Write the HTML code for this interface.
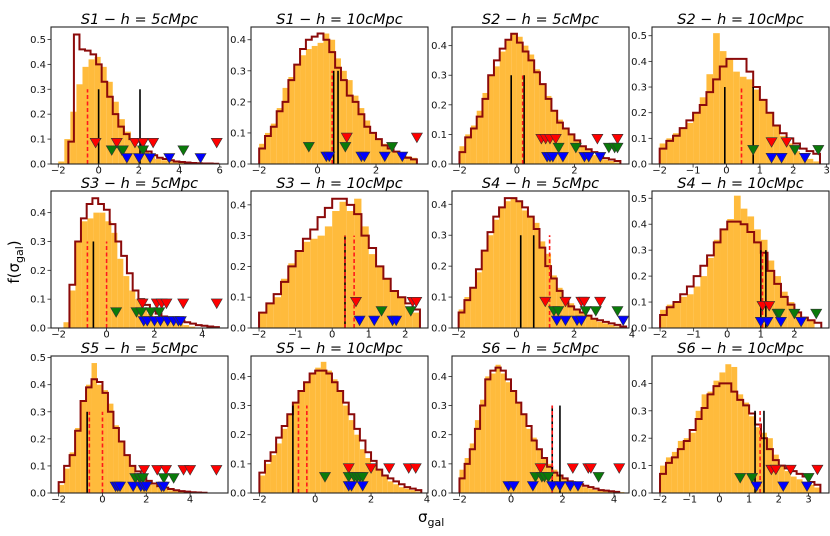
<!DOCTYPE html>
<html><head><meta charset="utf-8">
<style>
html,body{margin:0;padding:0;background:#fff;}
svg{display:block;font-family:"DejaVu Sans","Liberation Sans",sans-serif;}
</style></head>
<body>
<svg id="fig" width="830" height="536" viewBox="0 0 830 536" xmlns="http://www.w3.org/2000/svg">
<text x="0" y="0" transform="translate(19,262) rotate(-90)" text-anchor="middle" font-size="15">f(σ<tspan font-size="11" dy="4">gal</tspan><tspan dy="-4">)</tspan></text>
<text x="418" y="522" font-size="15">σ<tspan font-size="11" dy="4">gal</tspan></text>
</svg>
<script>
// ---- data per panel ----
const titles = ["S1","S1","S2","S2","S3","S3","S4","S4","S5","S5","S6","S6"];
const scales = ["5","10","5","10","5","10","5","10","5","10","5","10"];
const orange1 = [0.01,0.1,0.21,0.32,0.39,0.42,0.43,0.39,0.33,0.25,0.18,0.13,0.1,0.07,0.05,0.03,0.02,0.015,0.01,0.008,0.005,0.004,0.003,0.002,0.002,0.001];
const red1 = [0.09,0.52,0.46,0.455,0.44,0.40,0.33,0.27,0.20,0.15,0.12,0.10,0.09,0.07,0.05,0.035,0.025,0.02,0.015,0.01,0.008,0.006,0.004,0.003,0.002,0.002,0.001];
const orange2 = [0.065,0.1,0.13,0.18,0.245,0.28,0.32,0.35,0.37,0.38,0.39,0.42,0.40,0.34,0.3,0.27,0.22,0.18,0.14,0.1,0.08,0.065,0.05,0.04,0.03,0.025,0.02];
const red2 = [0.05,0.09,0.12,0.17,0.2,0.27,0.32,0.37,0.40,0.41,0.42,0.40,0.36,0.31,0.27,0.22,0.2,0.16,0.12,0.1,0.08,0.06,0.05,0.04,0.03,0.02,0.015];
const orange3 = [0.06,0.1,0.13,0.18,0.24,0.3,0.33,0.38,0.42,0.44,0.43,0.4,0.37,0.32,0.27,0.23,0.18,0.15,0.12,0.1,0.08,0.06,0.05,0.03,0.02,0.015,0.01,0.005];
const red3 = [0.04,0.09,0.12,0.16,0.22,0.3,0.35,0.39,0.42,0.44,0.41,0.38,0.35,0.31,0.27,0.22,0.18,0.14,0.12,0.1,0.08,0.06,0.05,0.04,0.03,0.02,0.015,0.01];
const orange4 = [0.08,0.1,0.12,0.14,0.16,0.2,0.26,0.35,0.51,0.44,0.41,0.36,0.34,0.33,0.29,0.25,0.2,0.15,0.11,0.08,0.05,0.03,0.02,0.01];
const red4 = [0.06,0.09,0.11,0.14,0.17,0.2,0.23,0.28,0.33,0.38,0.41,0.41,0.41,0.36,0.3,0.25,0.2,0.15,0.12,0.1,0.08,0.06,0.05,0.04];
const orange5 = [0.02,0.13,0.3,0.37,0.38,0.4,0.4,0.37,0.33,0.24,0.18,0.13,0.1,0.07,0.05,0.04,0.03,0.025,0.02,0.015,0.01,0.005];
const red5 = [0.15,0.3,0.38,0.43,0.45,0.43,0.41,0.36,0.3,0.25,0.19,0.13,0.1,0.08,0.06,0.05,0.04,0.035,0.03,0.025,0.02,0.015,0.01,0.008,0.005,0.003];
const orange6 = [0.05,0.08,0.1,0.16,0.21,0.25,0.28,0.29,0.3,0.33,0.38,0.41,0.38,0.42,0.33,0.24,0.2,0.16,0.12,0.1,0.07,0.05];
const red6 = [0.05,0.08,0.11,0.15,0.2,0.25,0.29,0.32,0.36,0.39,0.42,0.42,0.40,0.37,0.3,0.26,0.2,0.16,0.12,0.1,0.08,0.06];
const orange7 = [0.06,0.1,0.13,0.18,0.25,0.3,0.35,0.39,0.41,0.42,0.41,0.38,0.36,0.34,0.28,0.24,0.17,0.13,0.1,0.08,0.06,0.05,0.04,0.03,0.02,0.015,0.01,0.005];
const red7 = [0.05,0.09,0.13,0.19,0.25,0.31,0.36,0.39,0.42,0.42,0.41,0.39,0.36,0.32,0.26,0.2,0.16,0.12,0.09,0.07,0.06,0.05,0.04,0.03,0.025,0.02,0.015,0.01,0.005];
const orange8 = [0.07,0.09,0.1,0.12,0.13,0.16,0.2,0.27,0.34,0.38,0.42,0.51,0.46,0.43,0.38,0.34,0.26,0.2,0.14,0.1,0.06,0.04,0.03];
const red8 = [0.05,0.08,0.1,0.13,0.16,0.2,0.24,0.28,0.33,0.38,0.41,0.41,0.40,0.37,0.33,0.29,0.22,0.17,0.12,0.09,0.06,0.04,0.03,0.02];
const orange9 = [0.03,0.09,0.15,0.24,0.34,0.4,0.48,0.4,0.38,0.33,0.25,0.19,0.14,0.1,0.07,0.05,0.04,0.03,0.02,0.015,0.01,0.008,0.005,0.003,0.002];
const red9 = [0.04,0.1,0.14,0.23,0.34,0.39,0.42,0.41,0.37,0.3,0.24,0.19,0.14,0.1,0.08,0.06,0.045,0.035,0.025,0.02,0.015,0.01,0.007,0.005,0.003,0.002,0.001];
const orange10 = [0.06,0.1,0.13,0.17,0.22,0.27,0.31,0.35,0.38,0.41,0.43,0.45,0.42,0.39,0.35,0.3,0.25,0.2,0.15,0.12,0.1,0.08,0.06,0.04,0.03,0.02,0.015,0.01,0.005];
const red10 = [0.07,0.11,0.14,0.19,0.23,0.27,0.31,0.35,0.38,0.41,0.42,0.42,0.41,0.38,0.35,0.31,0.27,0.22,0.18,0.14,0.11,0.08,0.06,0.05,0.04,0.03,0.02,0.015,0.01];
const orange11 = [0.08,0.12,0.17,0.25,0.32,0.4,0.41,0.44,0.41,0.38,0.35,0.31,0.27,0.22,0.19,0.15,0.12,0.1,0.08,0.06,0.05,0.04,0.03,0.025,0.02,0.015,0.01,0.008,0.006,0.005,0.004,0.003];
const red11 = [0.05,0.1,0.15,0.22,0.3,0.39,0.42,0.43,0.42,0.39,0.35,0.31,0.27,0.23,0.18,0.15,0.12,0.09,0.07,0.06,0.05,0.04,0.035,0.03,0.025,0.02,0.015,0.01,0.008,0.006,0.004];
const orange12 = [0.1,0.13,0.15,0.19,0.2,0.22,0.3,0.36,0.37,0.41,0.44,0.47,0.46,0.36,0.33,0.28,0.24,0.22,0.2,0.14,0.1,0.08,0.06,0.05,0.04,0.03,0.02];
const red12 = [0.07,0.11,0.13,0.16,0.19,0.23,0.27,0.31,0.36,0.39,0.4,0.4,0.37,0.34,0.32,0.29,0.25,0.2,0.16,0.12,0.1,0.09,0.08,0.07,0.06,0.04,0.03];
const blackLines = [[0,2.05],[0.55,0.7],[-0.2,0.25],[-0.05,0.8],[-0.55],[0.35],[0.15,0.6],[1.0,1.15],[-0.7],[-0.8],[1.6,1.9],[1.2,1.5]];
const redLines = [[-0.55],[0.5],[0.2],[0.45],[-0.8,0.0],[0.35,0.6],[1.15],[1.05],[-0.6,0.0],[-0.6,-0.3],[1.6],[1.37]];
const redMarks = [[-0.15,0.9,1.8,2.2,2.7,5.85],[1.0,3.4],[0.85,1.0,1.15,1.35,2.8,3.5],[1.35,1.8],[1.5,2.1,2.3,2.5,3.2,4.6],[0.65,2.2,2.3],[1.0,1.7,2.25,2.35,2.9],[1.05,1.25],[1.9,2.5,2.9,3.7,4.0,5.2],[1.2,2.0,2.65,3.35,3.6],[1.15,2.4,3.0,3.1,4.2],[1.75,1.9,2.4,3.3]];
const greenMarks = [[0.65,1.15,1.2,2.2,4.2],[-0.3,0.95,2.55],[1.45,2.05,3.2,3.4,3.5],[0.8,2.05,2.75],[0.4,1.25,1.45,1.85,2.2],[1.35,2.15],[1.3,1.45,2.4,2.75,3.5],[1.5,1.55,2.0,2.65],[1.5,1.7,1.85,2.8,3.25],[0.35,1.2,1.4,1.5,1.6,1.7],[0.95,1.2,1.3,1.45,3.4],[0.7,1.1,3.0]];
const blueMarks = [[1.4,2.0,2.55,3.5,5.05],[0.3,0.4,1.5,1.6,2.3,2.9],[1.05,1.15,1.25,1.6,2.35,2.5,2.9],[1.35,1.65,2.35],[1.55,1.7,2.0,2.25,2.55,2.8,3.0,3.1],[0.75,1.15,1.65,1.75],[1.4,1.7,2.1,2.25,3.7],[1.0,1.2,1.6,2.2],[0.6,0.7,0.8,1.4,1.75,1.9,2.0,2.7,2.8],[1.2,1.3,1.7],[-0.1,0.1,0.85,1.6,1.9,2.3,2.6],[1.25,2.15,2.95]];
const xTicks = [[-2,0,2,4,6],[-2,0,2],[-2,0,2],[-2,-1,0,1,2,3],[-2,0,2,4],[-2,-1,0,1,2],[-2,0,2,4],[-2,-1,0,1,2],[-2,0,2,4],[-2,0,2,4],[-2,0,2,4],[-2,-1,0,1,2,3]];
const yTicks = [[0,0.1,0.2,0.3,0.4,0.5],[0,0.1,0.2,0.3,0.4],[0,0.1,0.2,0.3,0.4],[0,0.1,0.2,0.3,0.4,0.5],[0,0.1,0.2,0.3,0.4],[0,0.1,0.2,0.3,0.4],[0,0.1,0.2,0.3,0.4],[0,0.1,0.2,0.3,0.4,0.5],[0,0.1,0.2,0.3,0.4,0.5],[0,0.1,0.2,0.3,0.4],[0,0.1,0.2,0.3,0.4],[0,0.1,0.2,0.3,0.4]];
const orangeBins = [[-2,0.3],[-2,0.2],[-2,0.2],[-2,0.2],[-1.8,0.25],[-2,0.2],[-2,0.2],[-2,0.2],[-2,0.25],[-2,0.2],[-2,0.2],[-2,0.2]];
const redBins = [[-1.5,0.275],[-2,0.2],[-2,0.2],[-2,0.2],[-1.55,0.24],[-2,0.2],[-2,0.2],[-2,0.2],[-2,0.25],[-2,0.2],[-2,0.2],[-2,0.2]];
const xDomains = [[-2.36,6.41],[-2.28,3.78],[-2.26,3.9],[-2.23,3.07],[-2.32,5.07],[-2.22,2.62],[-2.23,3.9],[-2.24,3.03],[-2.35,5.73],[-2.3,4.04],[-2.29,4.58],[-2.27,3.69]];
const yMax = [0.55,0.441,0.463,0.534,0.475,0.445,0.443,0.528,0.506,0.47,0.47,0.5];
const oranges=[orange1,orange2,orange3,orange4,orange5,orange6,orange7,orange8,orange9,orange10,orange11,orange12];
const reds=[red1,red2,red3,red4,red5,red6,red7,red8,red9,red10,red11,red12];

// ---- layout ----
const colLeft=[51,251,452,652], rowTop=[27,191,356], PW=177, PH=137;
const NS="http://www.w3.org/2000/svg";
const svg=document.getElementById('fig');
function mk(tag,attrs,parent){const e=document.createElementNS(NS,tag);for(const k in attrs)e.setAttribute(k,attrs[k]);(parent||svg).appendChild(e);return e;}

for(let i=0;i<12;i++){
  const L=colLeft[i%4], T=rowTop[Math.floor(i/4)], B=T+PH;
  const xd=xDomains[i];
  const X=v=>L+(v-xd[0])/(xd[1]-xd[0])*PW;
  const Y=v=>B-v/yMax[i]*PH;
  const g=mk('g',{});
  
  
  const clip=mk('clipPath',{id:'c'+i},g);
  mk('rect',{x:L,y:T,width:PW,height:PH},clip);
  const pg=mk('g',{'clip-path':'url(#c'+i+')'},g);
  const ob=orangeBins[i];
  oranges[i].forEach((h,k)=>{
    const x0=X(ob[0]+k*ob[1]), x1=X(ob[0]+(k+1)*ob[1]);
    const r=mk('rect',{x:x0,y:Y(h),width:x1-x0,height:B-Y(h),fill:'#ffb732','fill-opacity':'0.95'},pg);
    
    
  });
  const rb=redBins[i]; let d='M'+X(rb[0])+','+B;
  reds[i].forEach((h,k)=>{d+=' L'+X(rb[0]+k*rb[1])+','+Y(h)+' L'+X(rb[0]+(k+1)*rb[1])+','+Y(h);});
  d+=' L'+X(rb[0]+reds[i].length*rb[1])+','+B;
  const sp=mk('path',{d:d,fill:'none',stroke:'#8b0a0a','stroke-width':2,'stroke-linejoin':'miter'},pg);
  
  
  blackLines[i].forEach(v=>{
    const l=mk('line',{x1:X(v),x2:X(v),y1:B,y2:Y(0.3),stroke:'#000','stroke-width':1.6},pg);
    
    
  });
  redLines[i].forEach(v=>{
    const l=mk('line',{x1:X(v),x2:X(v),y1:B,y2:Y(0.3),stroke:'#ff1a1a','stroke-width':1.6,'stroke-dasharray':'4,2.5'},pg);
    
    
  });
  const marks=[[redMarks[i],0.085,'#ff0000','red-marker'],[greenMarks[i],0.055,'#0a7a0a','green-marker'],[blueMarks[i],0.024,'#0000ff','blue-marker']];
  marks.forEach(([arr,yv,col,nm])=>{
    arr.forEach(v=>{
      const cx=X(v), cy=Y(yv);
      const p=mk('polygon',{points:(cx-5.5)+','+(cy-4.5)+' '+(cx+5.5)+','+(cy-4.5)+' '+cx+','+(cy+5),fill:col,stroke:'#333','stroke-width':0.6},g);
      
      
    });
  });
  const fr=mk('rect',{x:L,y:T,width:PW,height:PH,fill:'none',stroke:'#222','stroke-width':1.1},g);
  
  
  xTicks[i].forEach(v=>{
    const x=X(v);
    mk('line',{x1:x,x2:x,y1:B,y2:B+3.5,stroke:'#222','stroke-width':0.8},g);
    const t=mk('text',{x:x,y:B+9.5,'font-size':10,'text-anchor':'middle',fill:'#111'},g);
    t.textContent=(v<0?'\u2212'+(-v):''+v);
    
    
  });
  yTicks[i].forEach(v=>{
    const y=Y(v);
    mk('line',{x1:L-3.5,x2:L,y1:y,y2:y,stroke:'#222','stroke-width':0.8},g);
    const t=mk('text',{x:L-5,y:y+3.5,'font-size':10,'text-anchor':'end',fill:'#111'},g);
    t.textContent=v.toFixed(1);
    
    
  });
  const tt=mk('text',{x:L+PW/2,y:T-3,'font-size':14.5,'text-anchor':'middle','font-style':'italic',fill:'#000'},g);
  tt.textContent=titles[i]+' \u2212 h = '+scales[i]+'cMpc';
  
  
}
</script>
</body></html>
